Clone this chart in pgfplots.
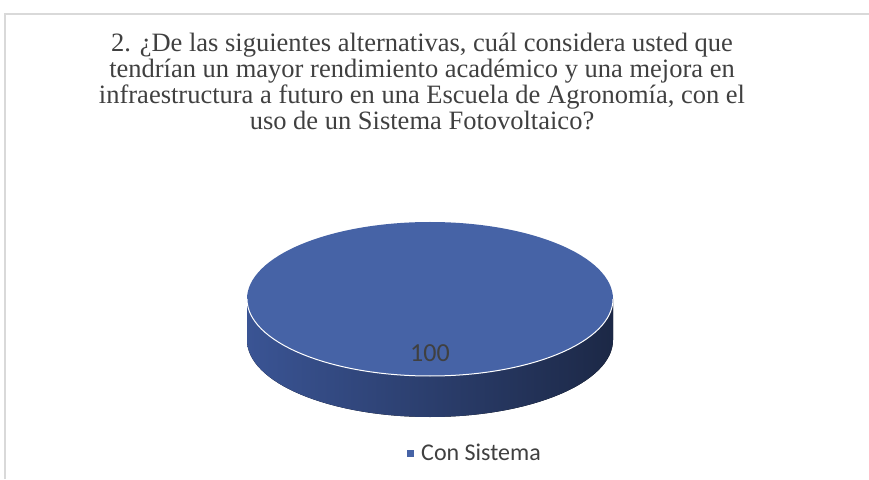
\documentclass[border=0pt]{standalone}
\usepackage{pgfplots}
\pgfplotsset{compat=1.18}
\usepackage{pgfplotstable}
\usepackage{fontspec}
\setmainfont{Liberation Serif}
\newfontfamily\calfont{Carlito}
\definecolor{topc}{HTML}{4663A6}
\definecolor{sideL}{HTML}{3A5494}
\definecolor{sideR}{HTML}{1C2846}
\definecolor{txt}{HTML}{404040}
\definecolor{lbl}{HTML}{404040}
\pgfplotstableread{
cat value
ConSistema 100
}\datatable
\pgfplotstablegetelem{0}{value}\of\datatable
\let\pieval\pgfplotsretval
\begin{document}
\begin{tikzpicture}
\begin{axis}[
  width=869pt, height=479pt, scale only axis,
  xmin=0, xmax=869, ymin=0, ymax=479,
  hide axis, clip=false,
  legend style={draw=none, font=\calfont\fontsize{24}{26}\selectfont, text=lbl,
    at={(axis cs:475,26)}, anchor=center, inner sep=0pt},
  legend cell align=left,
]
% frame
\draw[gray!30, line width=1.2pt] (axis cs:5,0) -- (axis cs:5,465) -- (axis cs:869,465);
% side of the pie
\fill[left color=sideL, right color=sideR]
  (axis cs:247,180) -- (axis cs:247,139)
  arc[start angle=180, end angle=360, x radius=183pt, y radius=77pt]
  -- (axis cs:613,180)
  arc[start angle=360, end angle=180, x radius=183pt, y radius=77pt] -- cycle;
% top
\fill[topc] (axis cs:430,180) ellipse[x radius=183pt, y radius=77pt];
\draw[white, line width=1pt] (axis cs:247,180)
  arc[start angle=180, end angle=360, x radius=183pt, y radius=77pt];
\node[font=\calfont\fontsize{26}{28}\selectfont, text=lbl] at (axis cs:430,126) {\pieval};
% title
\node[align=center, text=txt, font=\fontsize{26.5}{26}\selectfont] at (axis cs:422,398)
  {2. ¿De las siguientes alternativas, cuál considera usted que\\
   tendrían un mayor rendimiento académico y una mejora en\\
   infraestructura a futuro en una Escuela de Agronomía, con el\\
   uso de un Sistema Fotovoltaico?};
\addlegendimage{only marks, mark=square*, mark size=3pt, color=topc}
\addlegendentry{\hspace{6pt}Con Sistema}
\end{axis}
\pgfresetboundingbox
\path (current axis.south west) rectangle (current axis.north east);
\end{tikzpicture}
\end{document}
